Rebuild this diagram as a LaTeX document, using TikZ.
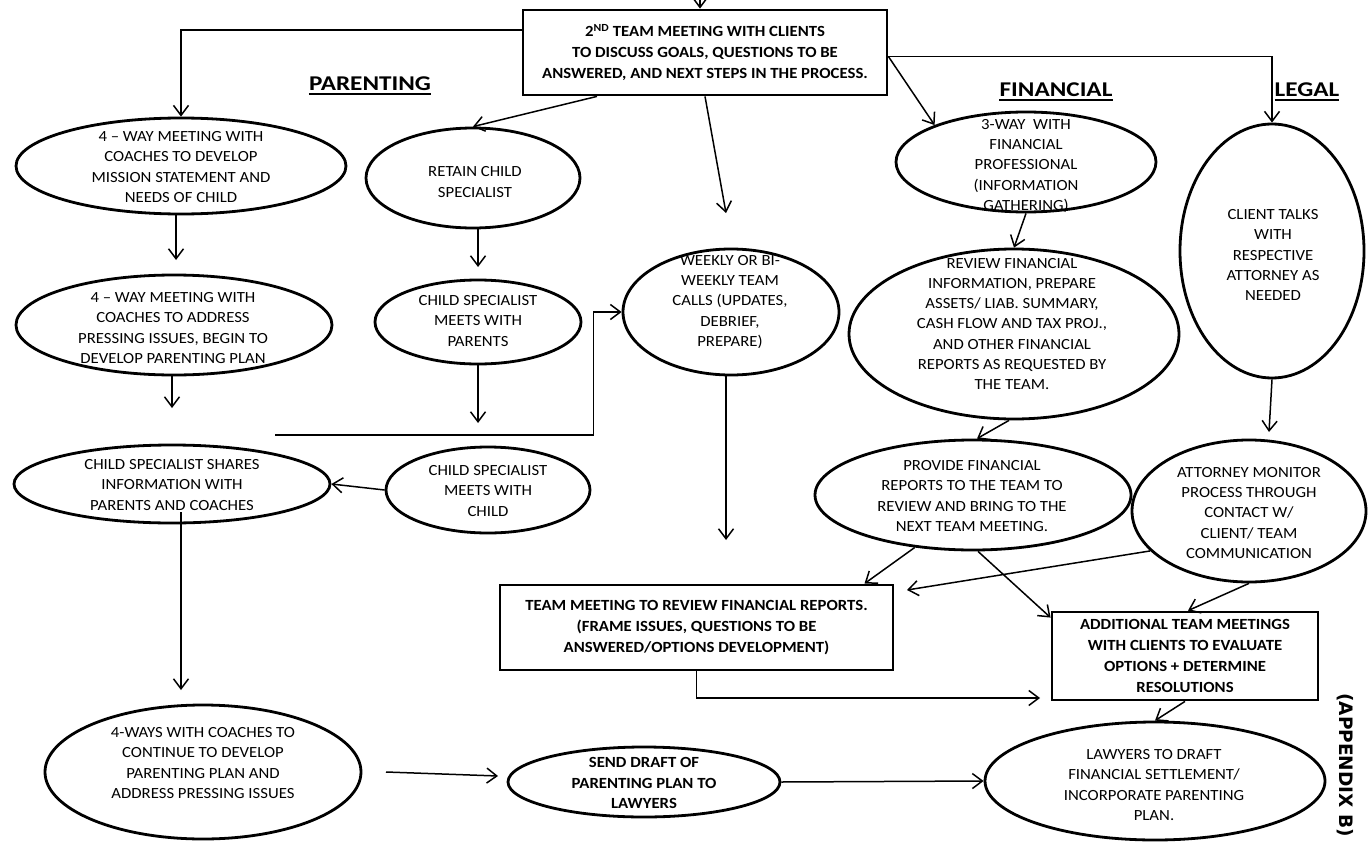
\documentclass[tikz,border=0pt]{standalone}
\usepackage{fontspec}
\setmainfont{Carlito}[FakeStretch=1.08]
\newfontfamily\hdfont{Carlito}[FakeStretch=1.2]
\newfontfamily\apxfont{DejaVu Sans}
\usetikzlibrary{shapes.geometric,arrows.meta,calc}
\begin{document}
\begin{tikzpicture}[x=1pt,y=-1pt,
  ell/.style={ellipse, draw, line width=2.8pt, inner sep=0pt},
  box/.style={rectangle, draw, line width=2.8pt, inner sep=0pt},
  txt/.style={align=center, inner sep=0pt, font=\fontsize{15.5}{20.3}\selectfont},
  btxt/.style={align=center, inner sep=0pt, font=\fontsize{15.5}{20.8}\selectfont\bfseries},
  arr/.style={-{Straight Barb[length=10pt,width=15pt]}, line width=1.5pt},
  hd/.style={inner sep=0pt, font=\hdfont\bfseries\fontsize{21}{24}\selectfont},
  uline/.style={line width=2.2pt},
]
\useasboundingbox (0,0) rectangle (1368,843);

% top box
\node[box, btxt, minimum width=364pt, minimum height=85pt] (tb) at (705,52.5)
  {2\textsuperscript{ND} TEAM MEETING WITH CLIENTS\\TO DISCUSS GOALS, QUESTIONS TO BE\\ANSWERED, AND NEXT STEPS IN THE PROCESS.};

% headers
\node[hd] (hpar) at (370,83.5) {PARENTING};
\node[hd] (hfin) at (1056,89.5) {FINANCIAL};
\node[hd] (hleg) at (1307,89.5) {LEGAL};
\draw[uline] ([yshift=-3pt]hpar.south west) -- ([yshift=-3pt]hpar.south east);
\draw[uline] ([yshift=-3pt]hfin.south west) -- ([yshift=-3pt]hfin.south east);
\draw[uline] ([yshift=-3pt]hleg.south west) -- ([yshift=-3pt]hleg.south east);

% parenting column
\node[ell, minimum width=330pt, minimum height=96pt] (a1) at (181,166) {};
\node[txt] (a1t) at (181,167) {4 -- WAY MEETING WITH\\COACHES TO DEVELOP\\MISSION STATEMENT AND\\NEEDS OF CHILD};

\node[ell, minimum width=214pt, minimum height=100pt] (ret) at (473,178) {};
\node[txt] (rett) at (475,182) {RETAIN CHILD\\SPECIALIST};

\node[ell, minimum width=316pt, minimum height=100pt] (a2) at (174,325) {};
\node[txt] (a2t) at (173,328) {4 -- WAY MEETING WITH\\COACHES TO ADDRESS\\PRESSING ISSUES, BEGIN TO\\DEVELOP PARENTING PLAN};

\node[ell, minimum width=206pt, minimum height=84pt] (par) at (478,322) {};
\node[txt] (part) at (478,321) {CHILD SPECIALIST\\MEETS WITH\\PARENTS};

\node[ell, minimum width=316pt, minimum height=78pt] (cs) at (172,484) {};
\node[txt] (cst) at (172,485) {CHILD SPECIALIST SHARES\\INFORMATION WITH\\PARENTS AND COACHES};

\node[ell, minimum width=204pt, minimum height=86pt] (ch) at (488,490) {};
\node[txt] (cht) at (488,491) {CHILD SPECIALIST\\MEETS WITH\\CHILD};

\node[ell, minimum width=316pt, minimum height=134pt] (fw) at (203,772) {};
\node[txt] (fwt) at (203,763) {4-WAYS WITH COACHES TO\\CONTINUE TO DEVELOP\\PARENTING PLAN AND\\ADDRESS PRESSING ISSUES};

% middle
\node[ell, minimum width=216pt, minimum height=126pt] (wk) at (731,312) {};
\node[txt] (wkt) at (730,302) {WEEKLY OR BI-\\WEEKLY TEAM\\CALLS (UPDATES,\\DEBRIEF,\\PREPARE)};

% financial
\node[ell, minimum width=260pt, minimum height=100pt] (fin1) at (1026,162) {};
\node[txt] (fin1t) at (1026,166) {3-WAY\ \ WITH\\FINANCIAL\\PROFESSIONAL\\(INFORMATION\\GATHERING)};

\node[ell, minimum width=330pt, minimum height=170pt] (fin2) at (1014,334) {};
\node[txt] (fin2t) at (1012,324) {REVIEW FINANCIAL\\INFORMATION, PREPARE\\ASSETS/ LIAB. SUMMARY,\\CASH FLOW AND TAX PROJ.,\\AND OTHER FINANCIAL\\REPORTS AS REQUESTED BY\\THE TEAM.};

\node[ell, minimum width=316pt, minimum height=110pt] (prov) at (973,495) {};
\node[txt] (provt) at (972,496) {PROVIDE FINANCIAL\\REPORTS TO THE TEAM TO\\REVIEW AND BRING TO THE\\NEXT TEAM MEETING.};

% legal
\node[ell, minimum width=184pt, minimum height=254pt] (leg) at (1272,251) {};
\node[txt] (legt) at (1273,255) {CLIENT TALKS\\WITH\\RESPECTIVE\\ATTORNEY AS\\NEEDED};

\node[ell, minimum width=234pt, minimum height=142pt] (att) at (1249,511) {};
\node[txt] (attt) at (1249,513) {ATTORNEY MONITOR\\PROCESS THROUGH\\CONTACT W/\\CLIENT/ TEAM\\COMMUNICATION};

% bottom boxes
\node[box, btxt, minimum width=393pt, minimum height=85pt] (tm) at (696.5,627.5)
  {TEAM MEETING TO REVIEW FINANCIAL REPORTS.\\(FRAME ISSUES, QUESTIONS TO BE\\ANSWERED/OPTIONS DEVELOPMENT)};
\node[box, btxt, minimum width=266pt, minimum height=88pt] (add) at (1185,656)
  {ADDITIONAL TEAM MEETINGS\\WITH CLIENTS TO EVALUATE\\OPTIONS + DETERMINE\\RESOLUTIONS};

\node[ell, minimum width=272pt, minimum height=70pt] (send) at (644,782) {};
\node[btxt] (sendt) at (644,783) {SEND DRAFT OF\\PARENTING PLAN TO\\LAWYERS};

\node[ell, minimum width=340pt, minimum height=118pt] (law) at (1155,781) {};
\node[txt] (lawt) at (1154,785) {LAWYERS TO DRAFT\\FINANCIAL SETTLEMENT/\\INCORPORATE PARENTING\\PLAN.};

\node[rotate=-90, inner sep=0pt, font=\apxfont\bfseries\fontsize{18.5}{22}\selectfont] (apx) at (1345,765) {(APPENDIX B)};

% free ends
\coordinate (topin) at (700,-2);
\coordinate (wkin) at (726,213);
\coordinate (legend) at (1269,432);
\coordinate (attend) at (907,590);
\coordinate (tmend) at (1040,698);
\coordinate (fwa) at (386,772);
\coordinate (fwb) at (498,776);
\coordinate (csend) at (181,690);
\coordinate (a1end) at (176,260);
\coordinate (a2end) at (172,408);
\coordinate (retend) at (478,267);
\coordinate (parend) at (478,423);
\coordinate (lstart) at (275,435);
\coordinate (wkend) at (726,540);

% connectors
\draw[arr] (topin) -- (topin |- tb.north);
\draw[arr] ([yshift=22.5pt]tb.west) -| (a1.north);
\draw[arr] ([xshift=-108pt]tb.south) -- (ret.north);
\draw[arr] (tb.south) -- (wkin);
\draw[arr] ([yshift=-4pt]tb.east) -- (fin1.158);
\draw[arr] ([yshift=-4pt]tb.east) -| (leg.north);
\draw[arr] ([xshift=-5pt]a1.south) -- (a1end);
\draw[arr] ([xshift=-2pt]a2.south) -- (a2end);
\draw[arr] ([xshift=5pt]ret.south) -- (retend);
\draw[arr] (par.south) -- (parend);
\draw[arr] (lstart) -| ([xshift=-28pt]wk.west) -- (wk.west);
\draw[arr] ([xshift=-5pt]wk.south) -- (wkend);
\draw[arr] (ch.west) -- (cs.east);
\draw[arr] ([shift={(9pt,12pt)}]cs.south) -- (csend);
\draw[arr] (fwa) -- (fwb);
\draw[arr] (send.east) -- (law.west);
\draw[arr] (fin1.south) -- (fin2.north);
\draw[arr] ([xshift=-5pt]fin2.south) -- ([xshift=4pt]prov.north);
\draw[arr] (leg.south) -- (legend);
\draw[arr] (prov.222) -- ([xshift=168pt]tm.north);
\draw[arr] ([xshift=5pt]prov.south) -- ([yshift=-7pt]add.north west);
\draw[arr] (att.202) -- (attend);
\draw[arr] (att.south) -- ([xshift=3pt]add.north);
\draw[arr] (tm.south) |- (tmend);
\draw[arr] (add.south) -- (law.north);
\end{tikzpicture}
\end{document}
